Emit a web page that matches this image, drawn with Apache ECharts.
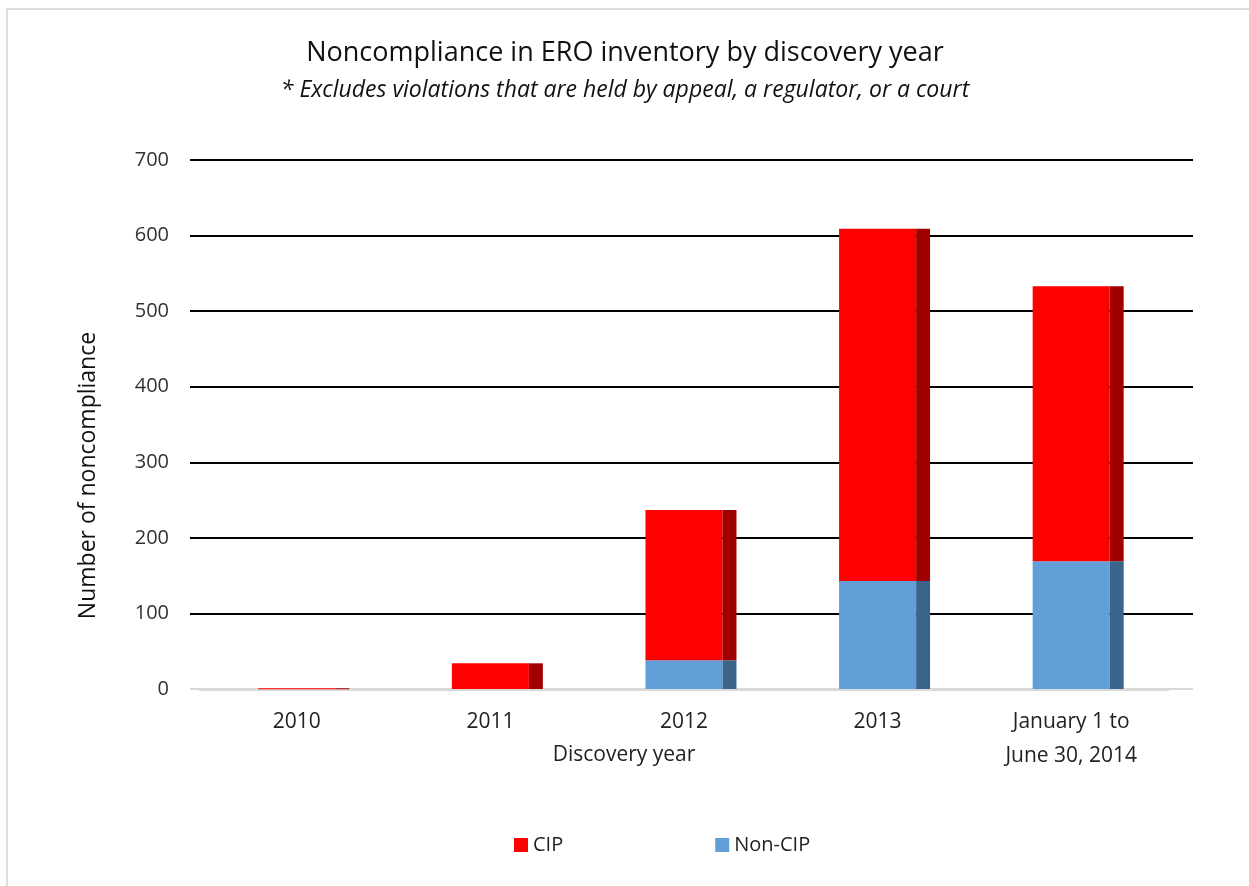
<!DOCTYPE html>
<html>
<head>
<meta charset="utf-8">
<script src="https://cdn.jsdelivr.net/npm/echarts@6/dist/echarts.min.js"></script>
<style>
html,body{margin:0;padding:0;background:#fff;}
#frame{position:absolute;left:6px;top:8px;width:1243px;height:878px;border-left:2px solid #dcdcdc;border-top:2px solid #dcdcdc;box-sizing:border-box;}
#chart{position:absolute;left:0;top:0;width:1249px;height:886px;}
</style>
</head>
<body>
<div id="frame"></div>
<div id="chart"></div>
<script>
const categories = ['2010', '2011', '2012', '2013', 'January 1 to\nJune 30, 2014'];
const cipValues = [1, 34, 199, 466, 364];
const nonCipValues = [0, 0, 38, 143, 169];
const yTicks = [0, 100, 200, 300, 400, 500, 600, 700];

const FONT = '"Open Sans", "Noto Sans", sans-serif';
const colors = {
  cip: '#ff0000', cipSide: '#a00000',
  non: '#629fd8', nonSide: '#3a6489'
};

function makeRender(front, side) {
  return function (params, api) {
    const idx = api.value(0);
    const lo = api.value(1);
    const hi = api.value(2);
    if (hi <= lo) return null;
    const p0 = api.coord([idx, lo]);
    const p1 = api.coord([idx, hi]);
    const band = api.size([1, 0])[0];
    const fw = band * 0.398;
    const sw = band * 0.072;
    const x = p0[0] - fw / 2;
    const y = p1[1];
    const h = Math.max(p0[1] - p1[1], 1);
    return {
      type: 'group',
      children: [
        { type: 'rect', shape: { x: x, y: y, width: fw, height: h }, style: { fill: front } },
        { type: 'rect', shape: { x: x + fw, y: y, width: sw, height: h }, style: { fill: side } }
      ]
    };
  };
}

const nonData = categories.map((c, i) => [i, 0, nonCipValues[i]]);
const cipData = categories.map((c, i) => [i, nonCipValues[i], nonCipValues[i] + cipValues[i]]);

const chart = echarts.init(document.getElementById('chart'));
chart.setOption({
  animation: false,
  title: {
    text: 'Noncompliance in ERO inventory by discovery year',
    subtext: '* Excludes violations that are held by appeal, a regulator, or a court',
    left: 620, textAlign: 'center', top: 35,
    textStyle: { fontFamily: FONT, fontSize: 27, fontWeight: 'normal', color: '#111' },
    subtextStyle: { fontFamily: FONT, fontSize: 23, fontStyle: 'italic', color: '#111' },
    itemGap: 12
  },
  legend: {
    top: 830, left: 509,
    itemWidth: 14, itemHeight: 14, itemGap: 152,
    textStyle: { fontFamily: FONT, fontSize: 20, color: '#222' },
    data: [
      { name: 'CIP', icon: 'rect', itemStyle: { color: colors.cip } },
      { name: 'Non-CIP', icon: 'rect', itemStyle: { color: colors.non } }
    ]
  },
  grid: [
    { left: 190, right: 56, top: 160, bottom: 197, containLabel: false },
    { left: 200, right: 81, top: 160, bottom: 197, containLabel: false }
  ],
  xAxis: [
    { gridIndex: 0, type: 'value', show: false, min: 0, max: 1 },
    {
      gridIndex: 1, type: 'category', data: categories,
      name: 'Discovery year', nameLocation: 'middle', nameGap: 56, nameMoveOverlap: false,
      nameTextStyle: { fontFamily: FONT, fontSize: 21, color: '#222', padding: [0, 120, 0, 0] },
      axisLine: { show: true, lineStyle: { color: '#d9d9d9', width: 3 } },
      axisTick: { show: false },
      axisLabel: { fontFamily: FONT, fontSize: 21, color: '#222', margin: 16, lineHeight: 34, interval: 0 }
    }
  ],
  yAxis: [
    {
      gridIndex: 0, type: 'value', min: 0, max: 700, interval: 100,
      name: 'Number of noncompliance', nameLocation: 'middle', nameGap: 90, nameRotate: 90,
      nameMoveOverlap: false,
      nameTextStyle: { fontFamily: FONT, fontSize: 23, color: '#111', padding: [0, 102, 0, 0] },
      axisLine: { show: false }, axisTick: { show: false },
      axisLabel: { fontFamily: FONT, fontSize: 20, color: '#333', margin: 21,
        formatter: v => yTicks.includes(v) ? String(v) : '' },
      splitLine: { lineStyle: { color: ['#d9d9d9', '#000', '#000', '#000', '#000', '#000', '#000', '#000'], width: 2 } }
    },
    { gridIndex: 1, type: 'value', min: 0, max: 700, interval: 100, show: false, splitLine: { show: false } }
  ],
  series: [
    { name: 'Non-CIP', type: 'custom', xAxisIndex: 1, yAxisIndex: 1,
      renderItem: makeRender(colors.non, colors.nonSide),
      encode: { x: 0, y: [1, 2] }, data: nonData, itemStyle: { color: colors.non }, z: 3 },
    { name: 'CIP', type: 'custom', xAxisIndex: 1, yAxisIndex: 1,
      renderItem: makeRender(colors.cip, colors.cipSide),
      encode: { x: 0, y: [1, 2] }, data: cipData, itemStyle: { color: colors.cip }, z: 3 }
  ]
});
</script>
</body>
</html>
